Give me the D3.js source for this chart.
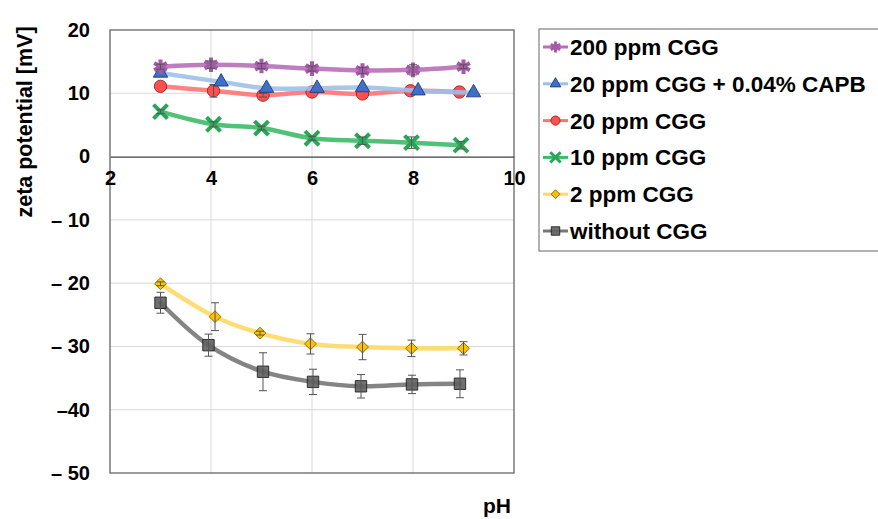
<!DOCTYPE html>
<html>
<head>
<meta charset="utf-8">
<script src="https://cdn.jsdelivr.net/npm/d3@7"></script>
<style>
  body { margin: 0; background: #fff; }
  text { font-family: Arial, "Liberation Sans", sans-serif; font-weight: bold; }
</style>
</head>
<body>
<div id="chart"></div>
<script>
    // tick values and labels
    var xTicks = [2, 4, 6, 8, 10];
    var yTicks = [20, 10, 0, -10, -20, -30, -40, -50];
    var yTickLabels = ["20", "10", "0", "\u2013 10", "\u2013 20", "\u2013 30", "\u201340", "\u2013 50"];

    // series names (legend order)
    var seriesNames = ["200 ppm CGG", "20 ppm CGG + 0.04% CAPB", "20 ppm CGG", "10 ppm CGG", "2 ppm CGG", "without CGG"];

    // pH values per series
    var phCgg200 = [3, 4, 5, 6, 7, 8, 9];
    var phCapb = [3, 4.2, 5.1, 6.1, 7, 8.1, 9.2];
    var phCgg20 = [3, 4.05, 5.03, 6, 7, 7.95, 8.92];
    var phCgg10 = [3, 4.05, 5, 6, 7, 7.97, 8.95];
    var phCgg2 = [3, 4.08, 4.97, 5.97, 7, 7.97, 9];
    var phNone = [3, 3.95, 5.03, 6.02, 6.97, 7.98, 8.93];

    // zeta potential values per series
    var zetaCgg200 = [14.2, 14.5, 14.3, 13.9, 13.6, 13.7, 14.2];
    var zetaCapb = [13.2, 11.8, 10.8, 10.8, 10.9, 10.4, 10.1];
    var zetaCgg20 = [11.1, 10.4, 9.7, 10.2, 9.9, 10.4, 10.2];
    var zetaCgg10 = [7.1, 5.1, 4.5, 2.9, 2.5, 2.2, 1.8];
    var zetaCgg2 = [-20.1, -25.3, -27.9, -29.6, -30.1, -30.3, -30.3];
    var zetaNone = [-23.1, -29.8, -34.0, -35.6, -36.3, -36.0, -35.9];

    // error bar half-widths
    var errCgg200 = [0.4, 0.6, 0.4, 0.4, 0.5, 0.8, 0.3];
    var errCapb = [0, 0, 0, 0, 0, 0, 0];
    var errCgg20 = [0, 1.0, 0.3, 0, 0, 0, 0];
    var errCgg10 = [0.3, 0.4, 0.3, 0.3, 0.6, 0.9, 0.6];
    var errCgg2 = [0.3, 2.2, 0.3, 1.6, 2.0, 1.3, 1.05];
    var errNone = [1.65, 1.75, 3.0, 2.0, 1.85, 1.45, 2.2];

    var svgWidth = 878;
    var svgHeight = 519;

    var margin = { top: 30, left: 110 };
    var width = 404;
    var height = 443;

    var svg = d3.select("#chart")
        .append("svg")
        .attr("width", svgWidth)
        .attr("height", svgHeight);

    var chartGroup = svg.append("g")
        .attr("transform", `translate(${margin.left}, ${margin.top})`);

    var xScale = d3.scaleLinear().domain([2, 10]).range([0, width]);
    var yScale = d3.scaleLinear().domain([-50, 20]).range([height, 0]);

    // gridlines
    chartGroup.selectAll(".hgrid")
        .data(yTicks.filter(d => d !== 20 && d !== -50 && d !== 0))
        .enter().append("line")
        .attr("x1", 0).attr("x2", width)
        .attr("y1", d => yScale(d)).attr("y2", d => yScale(d))
        .attr("stroke", "#d9d9d9").attr("stroke-width", 1);

    chartGroup.selectAll(".vgrid")
        .data(xTicks.filter(d => d !== 2 && d !== 10))
        .enter().append("line")
        .attr("x1", d => xScale(d)).attr("x2", d => xScale(d))
        .attr("y1", 0).attr("y2", height)
        .attr("stroke", "#d9d9d9").attr("stroke-width", 1);

    // border
    chartGroup.append("rect")
        .attr("width", width).attr("height", height)
        .attr("fill", "none").attr("stroke", "#595959").attr("stroke-width", 1.2);

    // x axis at zero
    var bottomAxis = d3.axisBottom(xScale).tickValues(xTicks).tickSize(0).tickPadding(14);
    var xAxisG = chartGroup.append("g")
        .attr("transform", `translate(0, ${yScale(0)})`)
        .call(bottomAxis);
    xAxisG.select(".domain").attr("stroke", "#404040").attr("stroke-width", 1.2);
    xAxisG.selectAll("text").style("font-size", "20px").attr("fill", "#000");

    // y axis labels
    var leftAxis = d3.axisLeft(yScale).tickValues(yTicks).tickSize(0).tickPadding(20)
        .tickFormat((d, i) => yTickLabels[i]);
    var yAxisG = chartGroup.append("g").call(leftAxis);
    yAxisG.select(".domain").remove();
    yAxisG.selectAll("text").style("font-size", "20px").attr("fill", "#000");

    // axis titles
    svg.append("text")
        .attr("transform", "translate(32, 122) rotate(-90)")
        .attr("text-anchor", "middle")
        .style("font-size", "21.5px")
        .text("zeta potential [mV]");

    svg.append("text")
        .attr("x", 497).attr("y", 513)
        .attr("text-anchor", "middle")
        .style("font-size", "21px")
        .text("pH");

    // series styles
    var series = [
        { name: seriesNames[0], x: phCgg200, y: zetaCgg200, err: errCgg200, line: "#b86fb8", fill: "#a45aa6", stroke: "#8a3d8c", shape: "star" },
        { name: seriesNames[1], x: phCapb, y: zetaCapb, err: errCapb, line: "#9dc0ea", fill: "#3f6fc8", stroke: "#1f3c73", shape: "triangle" },
        { name: seriesNames[2], x: phCgg20, y: zetaCgg20, err: errCgg20, line: "#ff7575", fill: "#ff4f4f", stroke: "#9a2020", shape: "circle" },
        { name: seriesNames[3], x: phCgg10, y: zetaCgg10, err: errCgg10, line: "#3dba68", fill: "#2aa656", stroke: "#1a7a3a", shape: "cross" },
        { name: seriesNames[4], x: phCgg2, y: zetaCgg2, err: errCgg2, line: "#ffd966", fill: "#ffc000", stroke: "#7a5a00", shape: "diamond" },
        { name: seriesNames[5], x: phNone, y: zetaNone, err: errNone, line: "#777777", fill: "#606060", stroke: "#222222", shape: "square" }
    ];

    var symbolTypes = {
        star: d3.symbolAsterisk,
        triangle: d3.symbolTriangle,
        circle: d3.symbolCircle,
        cross: d3.symbolX,
        diamond: d3.symbolSquare,
        square: d3.symbolSquare
    };
    var symbolSizes = { star: 150, triangle: 90, circle: 120, cross: 130, diamond: 70, square: 130 };

    function drawMarker(g, s, scale) {
        var sym = d3.symbol().type(symbolTypes[s.shape]).size(symbolSizes[s.shape] * scale);
        var p = g.append("path").attr("d", sym);
        if (s.shape === "star" || s.shape === "cross") {
            p.attr("fill", "none").attr("stroke", s.fill).attr("stroke-width", 4 * Math.sqrt(scale));
        } else if (s.shape === "diamond") {
            p.attr("transform", "rotate(45)").attr("fill", s.fill).attr("stroke", s.stroke).attr("stroke-width", 0.8);
        } else {
            p.attr("fill", s.fill).attr("fill-opacity", s.shape === "square" ? 0.9 : 1)
                .attr("stroke", s.stroke).attr("stroke-width", 0.9);
        }
        return p;
    }

    var lineGen = d3.line()
        .x(d => xScale(d[0]))
        .y(d => yScale(d[1]))
        .curve(d3.curveCatmullRom.alpha(0.5));

    // draw bottom series first so upper ones overlay
    series.slice().reverse().forEach(function(s) {
        var pts = s.x.map((v, i) => [v, s.y[i], s.err[i]]);
        var g = chartGroup.append("g");

        g.append("path")
            .datum(pts)
            .attr("d", lineGen)
            .attr("fill", "none")
            .attr("stroke", s.line)
            .attr("stroke-width", 4.5)
            .attr("stroke-opacity", 0.9)
            .attr("stroke-linecap", "round");

        pts.forEach(function(p) {
            var cx = xScale(p[0]), cy = yScale(p[1]);
            var m = g.append("g").attr("transform", `translate(${cx}, ${cy})`);
            drawMarker(m, s, 1);
            if (p[2] > 0) {
                var y1 = yScale(p[1] + p[2]), y2 = yScale(p[1] - p[2]);
                g.append("line").attr("x1", cx).attr("x2", cx).attr("y1", y1).attr("y2", y2)
                    .attr("stroke", "#555").attr("stroke-width", 1);
                [y1, y2].forEach(function(yy) {
                    g.append("line").attr("x1", cx - 4).attr("x2", cx + 4).attr("y1", yy).attr("y2", yy)
                        .attr("stroke", "#555").attr("stroke-width", 1);
                });
            }
        });
    });

    // legend
    var legend = svg.append("g").attr("transform", "translate(539, 29)");
    legend.append("rect")
        .attr("width", 360).attr("height", 222)
        .attr("fill", "#fff").attr("stroke", "#7f7f7f").attr("stroke-width", 1.2);

    series.forEach(function(s, i) {
        var row = legend.append("g").attr("transform", `translate(0, ${18 + i * 36.8})`);
        row.append("line").attr("x1", 4).attr("x2", 29).attr("y1", 0).attr("y2", 0)
            .attr("stroke", s.line).attr("stroke-width", 3);
        var m = row.append("g").attr("transform", "translate(16.5, 0)");
        drawMarker(m, s, 0.55);
        row.append("text")
            .attr("x", 31).attr("y", 8)
            .style("font-size", "22.5px")
            .text(s.name);
    });
</script>
</body>
</html>
